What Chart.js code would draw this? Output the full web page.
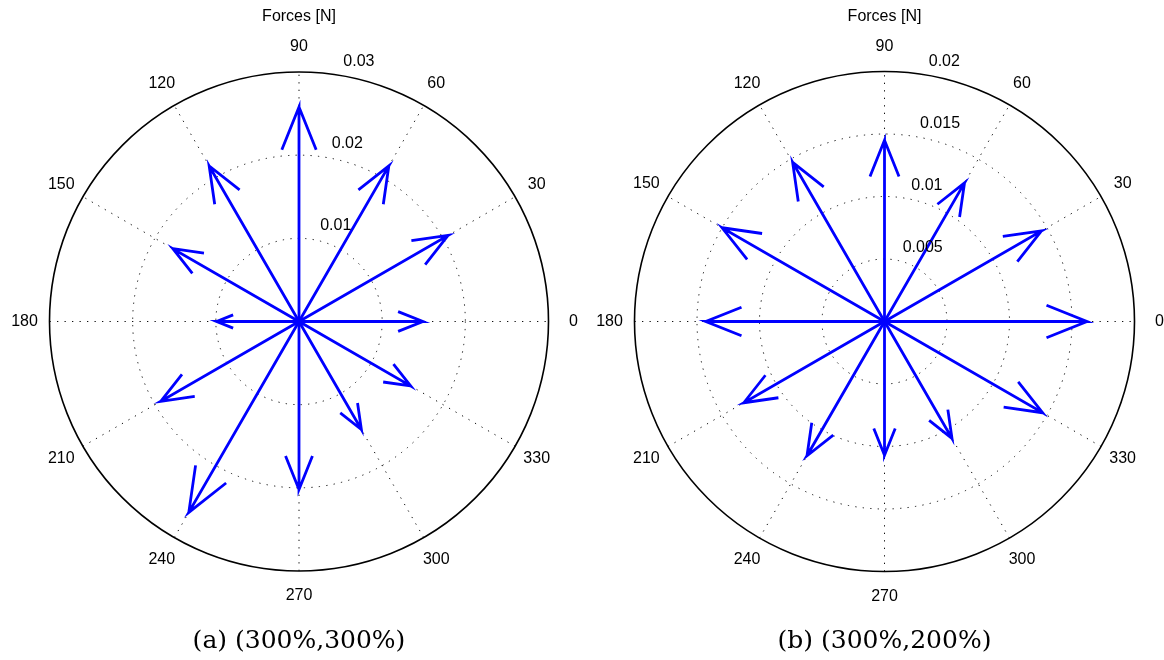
<!DOCTYPE html>
<html lang="en">

<head>
    <meta charset="UTF-8">
    <script src="https://cdn.jsdelivr.net/npm/chart.js@4/dist/chart.umd.min.js"></script>
    <title>Forces</title>
    <style>
        body { margin: 0; background: #fff; }
        canvas { position: absolute; top: 0; }
    </style>
</head>

<body>
    <canvas id="compassA" width="582" height="660" style="left: 0px;"></canvas>
    <canvas id="compassB" width="582" height="660" style="left: 582px;"></canvas>
    <script>
        // direction of each force (degrees) and magnitudes in N
        const directions = [0, 30, 60, 90, 120, 150, 180, 210, 240, 270, 300, 330];
        const forcesA = [0.0149, 0.0207, 0.0216, 0.0258, 0.0216, 0.0175, 0.0099, 0.0192, 0.0265, 0.0202, 0.0150, 0.0155];
        const forcesB = [0.0162, 0.0145, 0.0128, 0.0145, 0.0147, 0.0150, 0.0143, 0.0130, 0.0124, 0.0107, 0.0108, 0.0146];

        // grid
        const angleTicks = [0, 30, 60, 90, 120, 150, 180, 210, 240, 270, 300, 330];
        const ringsA = [0.01, 0.02, 0.03];
        const ringLabelsA = ['0.01', '0.02', '0.03'];
        const ringsB = [0.005, 0.01, 0.015, 0.02];
        const ringLabelsB = ['0.005', '0.01', '0.015', '0.02'];

        const title = 'Forces [N]';
        const captionA = '(a) (300%,300%)';
        const captionB = '(b) (300%,200%)';

        const rad = d => d * Math.PI / 180;

        // arrow like matlab's compass: shaft, then head at 0.8 of length, half width 0.08
        function arrowPoints(deg, r) {
            const c = Math.cos(rad(deg)), s = Math.sin(rad(deg));
            const pt = (a, b) => ({ x: r * (a * c - b * s), y: r * (a * s + b * c) });
            return [pt(0, 0), pt(1, 0), pt(0.8, 0.08), pt(1, 0), pt(0.8, -0.08)];
        }

        const compassGrid = {
            id: 'compassGrid',
            beforeDatasetsDraw(chart, args, opts) {
                const { ctx, scales: { x, y } } = chart;
                const cx = x.getPixelForValue(0), cy = y.getPixelForValue(0);
                const rings = opts.rings;
                const rmax = rings[rings.length - 1];
                const px = v => x.getPixelForValue(v) - cx;
                ctx.save();
                ctx.strokeStyle = '#111';
                ctx.lineWidth = 1;
                ctx.setLineDash([1.3, 6.2]);
                angleTicks.forEach(a => {
                    if (a >= 180) return;
                    const dx = px(rmax) * Math.cos(rad(a)), dy = px(rmax) * Math.sin(rad(a));
                    ctx.beginPath();
                    ctx.moveTo(cx - dx, cy + dy);
                    ctx.lineTo(cx + dx, cy - dy);
                    ctx.stroke();
                });
                rings.slice(0, -1).forEach(r => {
                    ctx.beginPath();
                    ctx.arc(cx, cy, px(r), 0, 2 * Math.PI);
                    ctx.stroke();
                });
                ctx.setLineDash([]);
                ctx.strokeStyle = '#000';
                ctx.lineWidth = 1.6;
                ctx.beginPath();
                ctx.arc(cx, cy, px(rmax), 0, 2 * Math.PI);
                ctx.stroke();
                ctx.restore();
            },
            afterDraw(chart, args, opts) {
                const { ctx, scales: { x, y } } = chart;
                const cx = x.getPixelForValue(0), cy = y.getPixelForValue(0);
                const rings = opts.rings;
                const rmax = rings[rings.length - 1];
                const rinc = rings[1] - rings[0];
                const px = v => x.getPixelForValue(v) - cx;
                ctx.save();
                ctx.fillStyle = '#000';
                ctx.font = '16px "Liberation Sans", Arial, sans-serif';
                ctx.textAlign = 'center';
                ctx.textBaseline = 'middle';
                angleTicks.forEach(a => {
                    const rr = px(rmax) * 1.1;
                    ctx.fillText(String(a), cx + rr * Math.cos(rad(a)), cy - rr * Math.sin(rad(a)));
                });
                ctx.fillText(title, cx, 17);
                ctx.textAlign = 'left';
                rings.forEach((r, i) => {
                    const rr = px(r + rinc / 20);
                    ctx.fillText(opts.labels[i], cx + rr * Math.cos(rad(82)) + 9, cy - rr * Math.sin(rad(82)) - 9);
                });
                ctx.textAlign = 'center';
                ctx.font = '25px "DejaVu Serif", serif';
                ctx.fillText(opts.caption, cx, 641);
                ctx.restore();
            }
        };

        function makeCompass(id, forces, rings, labels, caption, pad) {
            const rmax = rings[rings.length - 1];
            const datasets = directions.map((d, i) => ({
                data: arrowPoints(d, forces[i]),
                showLine: true,
                borderColor: '#0000ff',
                borderWidth: 2.8,
                pointRadius: 0,
                clip: false,
            }));
            return new Chart(document.getElementById(id), {
                type: 'scatter',
                data: { datasets },
                options: {
                    responsive: false,
                    animation: false,
                    devicePixelRatio: 1,
                    layout: { padding: pad },
                    scales: {
                        x: { type: 'linear', min: -rmax, max: rmax, display: false },
                        y: { type: 'linear', min: -rmax, max: rmax, display: false },
                    },
                    plugins: {
                        legend: { display: false },
                        tooltip: { enabled: false },
                        compassGrid: { rings, labels, caption },
                    },
                },
                plugins: [compassGrid],
            });
        }

        makeCompass('compassA', forcesA, ringsA, ringLabelsA, captionA,
            { left: 49.5, right: 33.5, top: 72, bottom: 89 });
        makeCompass('compassB', forcesB, ringsB, ringLabelsB, captionB,
            { left: 52.5, right: 29.5, top: 71.5, bottom: 88.5 });
    </script>
</body>

</html>
